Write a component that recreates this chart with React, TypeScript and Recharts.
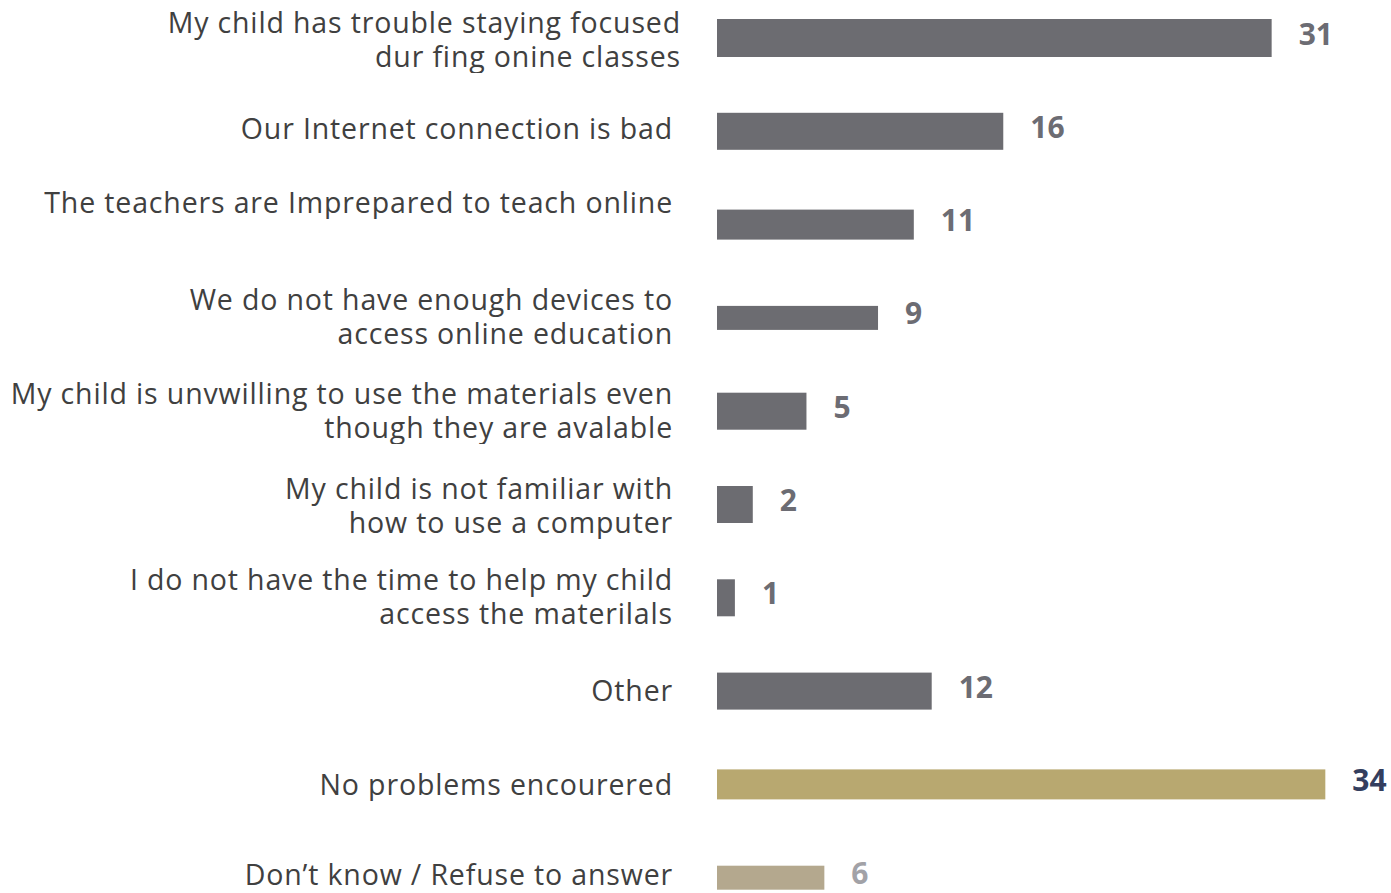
import React from 'react';
import { BarChart, Bar, XAxis, YAxis, Cell, LabelList } from 'recharts';

const categories = [
  'My child has trouble staying focused\ndur fing onine classes',
  'Our Internet connection is bad',
  'The teachers are Imprepared to teach online',
  'We do not have enough devices to\naccess online education',
  'My child is unvwilling to use the materials even\nthough they are avalable',
  'My child is not familiar with\nhow to use a computer',
  'I do not have the time to help my child\naccess the materilals',
  'Other',
  'No problems encourered',
  'Don\u2019t know / Refuse to answer',
];
const values = [31, 16, 11, 9, 5, 2, 1, 12, 34, 6];

const barColors = ['#6c6c71', '#6c6c71', '#6c6c71', '#6c6c71', '#6c6c71', '#6c6c71', '#6c6c71', '#6c6c71', '#b8a870', '#b4a88e'];
const valueColors = ['#6c6c73', '#6c6c73', '#6c6c73', '#6c6c73', '#6c6c73', '#6c6c73', '#6c6c73', '#6c6c73', '#343e5e', '#a2a2a7'];
// the original bars are not all the same thickness
const barThickness = [38, 37, 30, 24, 37, 37, 37, 37, 30, 24];
// small offsets of some labels in the original
const labelNudge = [
  { dx: 8, dy: 1 },
  { dx: 0, dy: -3 },
  { dx: 0, dy: -22 },
  { dx: 0, dy: -2 },
  { dx: 0, dy: -1 },
  { dx: 0, dy: 1 },
  { dx: 0, dy: -1 },
  { dx: 0, dy: -1 },
  { dx: 0, dy: 0 },
  { dx: 0, dy: -3 },
];

const data = categories.map((name, i) => ({ name, value: values[i] }));

const FONT = '"Open Sans", sans-serif';
const LINE_H = 34;
const TICK_W = 700;

const CategoryTick = (props: any) => {
  const { x, y, payload, index } = props;
  const text = String(payload.value);
  const nLines = text.split('\n').length;
  const nudge = labelNudge[index] || { dx: 0, dy: 0 };
  const h = nLines * LINE_H;
  return (
    <foreignObject x={x + nudge.dx - TICK_W} y={y + nudge.dy - h / 2} width={TICK_W} height={h}>
      <div
        style={{
          width: TICK_W,
          textAlign: 'right',
          whiteSpace: 'pre',
          lineHeight: `${LINE_H}px`,
          fontFamily: FONT,
          fontSize: 28.5,
          letterSpacing: 0.85,
          color: '#404040',
        }}
      >
        {text}
      </div>
    </foreignObject>
  );
};

const ThickBar = (props: any) => {
  const { x, y, width, height, index, fill } = props;
  const t = barThickness[index] ?? height;
  const cy = y + height / 2;
  return <rect x={x} y={cy - t / 2} width={width} height={t} fill={fill} />;
};

const ValueLabel = (props: any) => {
  const { x, y, width, height, value, index } = props;
  return (
    <text
      x={x + width + 27}
      y={y + height / 2 - 5}
      textAnchor="start"
      dominantBaseline="central"
      fontFamily={FONT}
      fontWeight={700}
      fontSize={30}
      fill={valueColors[index]}
    >
      {value}
    </text>
  );
};

export default function App() {
  return (
    <div
      style={{
        position: 'absolute',
        left: 0,
        top: 0,
        width: 1391,
        height: 893,
        overflow: 'hidden',
        background: '#fff',
      }}
    >
      <div style={{ position: 'absolute', left: 0, top: -9 }}>
        <BarChart
          width={1391}
          height={933}
          data={data}
          layout="vertical"
          margin={{ top: 0, right: 12, bottom: 0, left: 0 }}
          barSize={38}
        >
          <XAxis type="number" domain={[0, 37]} hide />
          <YAxis
            type="category"
            dataKey="name"
            width={717}
            axisLine={false}
            tickLine={false}
            tickSize={0}
            tickMargin={44}
            interval={0}
            tick={<CategoryTick />}
          />
          <Bar dataKey="value" isAnimationActive={false} shape={<ThickBar />}>
            {data.map((d, i) => (
              <Cell key={`c-${i}`} fill={barColors[i]} />
            ))}
            <LabelList dataKey="value" content={<ValueLabel />} />
          </Bar>
        </BarChart>
      </div>
    </div>
  );
}
